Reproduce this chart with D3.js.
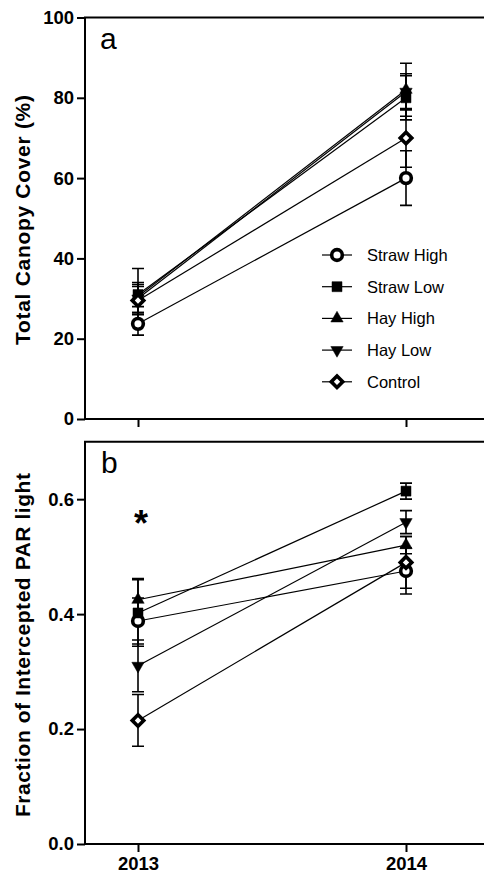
<!DOCTYPE html>
<html>
<head>
<meta charset="utf-8">
<script src="https://cdn.jsdelivr.net/npm/d3@7"></script>
<style>
  body { margin: 0; background: #fff; }
  svg { display: block; font-family: "Liberation Sans", Arial, sans-serif; }
  .tick line { stroke: #000; stroke-width: 2; }
</style>
</head>
<body>
<div id="chart"></div>
<script>
// data
var series = ["Straw High", "Straw Low", "Hay High", "Hay Low", "Control"],
    years = [2013, 2014],
    canopyMean = [[23.7, 60.0], [31.0, 80.0], [30.5, 82.0], [30.0, 81.5], [29.5, 70.0]],
    canopyErr  = [[2.8, 6.8], [3.0, 5.5], [7.0, 6.6], [3.5, 4.5], [3.5, 7.3]],
    parMean = [[0.388, 0.475], [0.402, 0.614], [0.425, 0.52], [0.31, 0.56], [0.215, 0.49]],
    parErr  = [[0.04, 0.04], [0.058, 0.014], [0.037, 0.015], [0.045, 0.02], [0.045, 0.045]],
    canopyTicks = [0, 20, 40, 60, 80, 100],
    parTicks = [0, 0.2, 0.4, 0.6];

var W = 484, H = 877,
    left = 85, right = 484;

var svg = d3.select("#chart").append("svg")
    .attr("width", W)
    .attr("height", H);

var x = d3.scaleLinear()
    .domain([2013, 2014])
    .range([138, 406]);

var shapes = [
    {type: d3.symbolCircle, size: 90, fill: "#fff", rot: 0},
    {type: d3.symbolSquare, size: 100, fill: "#000", rot: 0},
    {type: d3.symbolTriangle, size: 66, fill: "#000", rot: 0},
    {type: d3.symbolTriangle, size: 66, fill: "#000", rot: 180},
    {type: d3.symbolSquare, size: 66, fill: "#fff", rot: 45}
];

function marker(g, i, cx, cy) {
    var s = shapes[i];
    g.append("path")
        .attr("d", d3.symbol().type(s.type).size(s.size)())
        .attr("transform", "translate(" + cx + "," + cy + ") rotate(" + s.rot + ")")
        .attr("fill", s.fill)
        .attr("stroke", "#000")
        .attr("stroke-width", s.fill == "#fff" ? 3.6 : 0.5);
}

function styleTicks(sel) {
    sel.selectAll(".tick text")
        .attr("font-family", "'Liberation Sans', Arial, sans-serif")
        .attr("font-weight", "bold")
        .attr("font-size", 18.5)
        .attr("fill", "#000");
}

function panel(opts) {
    var y = d3.scaleLinear()
        .domain(opts.domain)
        .range([opts.bottom, opts.top]);

    var g = svg.append("g");

    // y axis
    var ya = g.append("g")
        .attr("transform", "translate(" + left + ",0)")
        .call(d3.axisLeft(y).tickValues(opts.ticks).tickFormat(opts.fmt).tickSize(8).tickPadding(3));
    ya.select(".domain").remove();
    styleTicks(ya);

    // x axis
    var xa = g.append("g")
        .attr("transform", "translate(0," + opts.bottom + ")")
        .call(d3.axisBottom(x).tickValues(years).tickFormat(opts.showYears ? d3.format("d") : "").tickSize(8).tickPadding(5));
    xa.select(".domain").remove();
    styleTicks(xa);

    // frame: left, top, bottom
    g.append("path")
        .attr("d", "M" + right + "," + opts.top + "H" + left + "V" + opts.bottom + "H" + right)
        .attr("fill", "none")
        .attr("stroke", "#000")
        .attr("stroke-width", 2);

    g.append("text")
        .attr("x", opts.labelX)
        .attr("y", opts.top + 31)
        .attr("font-size", 30)
        .text(opts.letter);

    g.append("text")
        .attr("transform", "translate(" + 30 + "," + opts.titleY + ") rotate(-90)")
        .attr("text-anchor", "middle")
        .attr("font-weight", "bold")
        .attr("font-size", 21)
        .attr("textLength", opts.titleLen)
        .attr("lengthAdjust", "spacing")
        .text(opts.title);

    // lines
    opts.mean.forEach(function(m, i) {
        g.append("line")
            .attr("x1", x(years[0])).attr("y1", y(m[0]))
            .attr("x2", x(years[1])).attr("y2", y(m[1]))
            .attr("stroke", "#000")
            .attr("stroke-width", 1.2);
    });

    // error bars
    opts.mean.forEach(function(m, i) {
        m.forEach(function(v, j) {
            var e = opts.err[i][j], cx = x(years[j]);
            g.append("path")
                .attr("d", "M" + cx + "," + y(v - e) + "V" + y(v + e) +
                    "M" + (cx - 6) + "," + y(v + e) + "H" + (cx + 6) +
                    "M" + (cx - 6) + "," + y(v - e) + "H" + (cx + 6))
                .attr("stroke", "#000")
                .attr("stroke-width", 1.6)
                .attr("fill", "none");
        });
    });

    // markers
    opts.mean.forEach(function(m, i) {
        m.forEach(function(v, j) {
            marker(g, i, x(years[j]), y(v));
        });
    });
    return y;
}

panel({
    domain: [0, 100], top: 17.5, bottom: 419, ticks: canopyTicks, fmt: d3.format("d"),
    mean: canopyMean, err: canopyErr, letter: "a", labelX: 100, showYears: false,
    title: "Total Canopy Cover (%)", titleY: 220, titleLen: 250
});

panel({
    domain: [0, 0.7], top: 441.7, bottom: 844, ticks: parTicks, fmt: d3.format(".1f"),
    mean: parMean, err: parErr, letter: "b", labelX: 101, showYears: true,
    title: "Fraction of Intercepted PAR light", titleY: 645, titleLen: 344
});

// significance star
svg.append("text")
    .attr("x", x(2013) + 3)
    .attr("y", 536)
    .attr("text-anchor", "middle")
    .attr("font-weight", "bold")
    .attr("font-size", 36)
    .text("*");

// legend
var leg = svg.append("g");
series.forEach(function(name, i) {
    var ly = 255 + i * 31.7;
    leg.append("line")
        .attr("x1", 322).attr("x2", 352)
        .attr("y1", ly).attr("y2", ly)
        .attr("stroke", "#000").attr("stroke-width", 1.2);
    marker(leg, i, 337, ly);
    leg.append("text")
        .attr("x", 367).attr("y", ly + 6)
        .attr("font-size", 16.5)
        .text(name);
});
</script>
</body>
</html>
